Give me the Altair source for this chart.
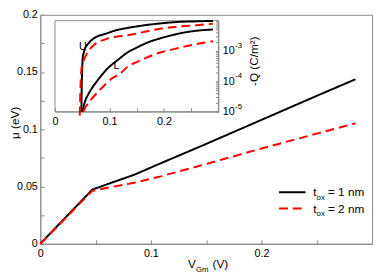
import altair as alt
import pandas as pd

# ---------------- data ----------------
series_keys = ["1", "2"]
series_labels = ["= 1 nm", "= 2 nm"]
series_colors = ["#000000", "#ff0000"]

# main panel: mu (eV) vs V_Gm (V)
v_1nm = [0, 0.047, 0.065, 0.085, 0.105, 0.15, 0.2, 0.25, 0.285]
mu_1nm = [0, 0.0473, 0.0535, 0.0603, 0.0687, 0.0872, 0.1082, 0.1292, 0.1437]
v_2nm = [0, 0.047, 0.065, 0.085, 0.109, 0.15, 0.2, 0.25, 0.285]
mu_2nm = [0, 0.0462, 0.0497, 0.0533, 0.0589, 0.0697, 0.0832, 0.0962, 0.1053]

# inset: -Q (C/m^2) vs V_Gm (V), curves U (upper) and L (lower)
vU_1nm = [0.0485, 0.049, 0.050, 0.051, 0.053, 0.055, 0.061, 0.07, 0.08, 0.091, 0.11, 0.133, 0.151, 0.193, 0.223, 0.26, 0.29]
qU_1nm = [1.0e-5, 5.0e-5, 2.5e-4, 6.3e-4, 8.9e-4, 1.17e-3, 1.74e-3, 2.5e-3, 3.16e-3, 3.6e-3, 4.7e-3, 5.75e-3, 6.5e-3, 8.1e-3, 9.0e-3, 9.5e-3, 9.8e-3]
vU_2nm = [0.0455, 0.046, 0.047, 0.048, 0.050, 0.053, 0.058, 0.065, 0.073, 0.09, 0.109, 0.133, 0.151, 0.193, 0.223, 0.26, 0.29]
qU_2nm = [7.4e-6, 2.0e-5, 7.9e-5, 2.0e-4, 3.55e-4, 5.0e-4, 7.9e-4, 1.2e-3, 1.66e-3, 2.34e-3, 2.9e-3, 3.3e-3, 3.8e-3, 5.4e-3, 6.3e-3, 7.1e-3, 7.9e-3]
vL_1nm = [0.0505, 0.053, 0.056, 0.061, 0.07, 0.079, 0.097, 0.115, 0.133, 0.151, 0.17, 0.193, 0.223, 0.253, 0.29]
qL_1nm = [1.0e-5, 1.6e-5, 2.4e-5, 3.7e-5, 6.8e-5, 1.12e-4, 2.7e-4, 5.0e-4, 8.9e-4, 1.32e-3, 1.9e-3, 2.6e-3, 3.6e-3, 4.5e-3, 5.1e-3]
vL_2nm = [0.052, 0.056, 0.062, 0.067, 0.08, 0.091, 0.105, 0.121, 0.135, 0.151, 0.17, 0.193, 0.22, 0.253, 0.29]
qL_2nm = [1.0e-5, 1.4e-5, 2.0e-5, 2.6e-5, 4.7e-5, 7.4e-5, 1.26e-4, 1.9e-4, 3.2e-4, 4.4e-4, 6.3e-4, 8.9e-4, 1.17e-3, 1.6e-3, 2.1e-3]

curve_names = ["U", "L"]
curve_label_v = [0.051, 0.113]
curve_label_q = [1.35e-3, 3.2e-4]

# ticks
x_ticks = [0, 0.05, 0.1, 0.15, 0.2, 0.25]
y_ticks = [0, 0.025, 0.05, 0.075, 0.1, 0.125, 0.15, 0.175, 0.2]
inset_x_ticks = [0, 0.05, 0.1, 0.15, 0.2, 0.25]
inset_y_ticks = [1e-5, 2e-5, 3e-5, 4e-5, 5e-5, 6e-5, 7e-5, 8e-5, 9e-5,
                 1e-4, 2e-4, 3e-4, 4e-4, 5e-4, 6e-4, 7e-4, 8e-4, 9e-4,
                 1e-3, 2e-3, 3e-3, 4e-3, 5e-3, 6e-3, 7e-3, 8e-3, 9e-3, 1e-2]
inset_decades = [1e-5, 1e-4, 1e-3]
inset_exponents = ["-5", "-4", "-3"]
inset_frame_v = [0, 0.3]
inset_frame_q = [1e-5, 1e-2]

# ---------------- tables ----------------
main_df = pd.concat([
    pd.DataFrame({"v": v_1nm, "mu": mu_1nm, "s": series_keys[0]}),
    pd.DataFrame({"v": v_2nm, "mu": mu_2nm, "s": series_keys[1]}),
], ignore_index=True)

inset_df = pd.concat([
    pd.DataFrame({"v": vU_1nm, "q": qU_1nm, "s": series_keys[0], "c": "U1"}),
    pd.DataFrame({"v": vU_2nm, "q": qU_2nm, "s": series_keys[1], "c": "U2"}),
    pd.DataFrame({"v": vL_1nm, "q": qL_1nm, "s": series_keys[0], "c": "L1"}),
    pd.DataFrame({"v": vL_2nm, "q": qL_2nm, "s": series_keys[1], "c": "L2"}),
], ignore_index=True)

label_df = pd.DataFrame({"v": curve_label_v, "q": curve_label_q, "t": curve_names})
exp_df = pd.DataFrame({"q": inset_decades, "t": inset_exponents})
frame_df = pd.DataFrame({"v": [inset_frame_v[0]], "v2": [inset_frame_v[1]],
                         "q": [inset_frame_q[0]], "q2": [inset_frame_q[1]]})
one = pd.DataFrame({"k": [0]})

W, H = 339, 234
GRAY = "#8a8a8a"
FONT = "Liberation Sans"

color_scale = alt.Scale(domain=series_keys, range=series_colors)
dash_scale = alt.Scale(domain=series_keys, range=[[1, 0], [9, 5]])


def xs_main():
    return alt.Scale(domain=[0, 0.3], nice=False, zero=False)


def ys_main():
    return alt.Scale(domain=[0, 0.2], nice=False, zero=False)


def xs_in():
    return alt.Scale(domain=[0, 0.3], range=[15, 182], nice=False, zero=False)


def ys_in():
    return alt.Scale(type="log", domain=[1e-5, 1e-2], range=[99, 6], nice=False)


# ---------------- main panel ----------------
main_lines = alt.Chart(main_df).mark_line(strokeWidth=2).encode(
    x=alt.X("v:Q", scale=xs_main(), axis=alt.Axis(
        values=x_ticks, orient="bottom", title=None,
        labelExpr="round(datum.value*100) % 10 == 0 ? (datum.value == 0 ? '0' : format(datum.value, '.1f')) : ''",
        tickSize={"expr": "-4"}, labelPadding=8, labelFlush=False, labelOverlap=False)),
    y=alt.Y("mu:Q", scale=ys_main(), axis=alt.Axis(
        values=y_ticks, orient="left", title="μ (eV)",
        labelExpr="round(datum.value*1000) % 50 == 0 ? format(datum.value, '.2~f') : ''",
        tickSize={"expr": "-4"}, labelPadding=7, titleAngle=270, titleBaseline="middle",
        titleX=-26, titleY=110, labelFlush=False, labelOverlap=False)),
    color=alt.Color("s:N", scale=color_scale, legend=None),
    strokeDash=alt.StrokeDash("s:N", scale=dash_scale, legend=None),
)

layers = [main_lines]


def txt(t, size, x, y):
    return alt.Chart(one).mark_text(text=t, fontSize=size, font=FONT, align="left",
                                    baseline="alphabetic", color="#000").encode(
        x=alt.value(x), y=alt.value(y))


# x-axis title with subscript
layers.append(txt("V", 12, 151, 259))
layers.append(txt("Gm", 8, 159, 263))
layers.append(txt("(V)", 12, 176, 259))

# legend
for i, (lab, col) in enumerate(zip(series_labels, series_colors)):
    dy = i * 16.7
    dash = [1, 0] if i == 0 else [9, 5]
    layers.append(alt.Chart(one).mark_rule(color=col, strokeWidth=2, strokeDash=dash).encode(
        x=alt.value(244), x2=alt.value(271), y=alt.value(181.3 + dy)))
    layers.append(txt("t", 12, 279, 185.5 + dy))
    layers.append(txt("ox", 8, 282.3, 189 + dy))
    layers.append(txt(lab, 12, 294, 185.5 + dy))

# ---------------- inset ----------------
frame = alt.Chart(frame_df).mark_rect(fill=None, stroke=GRAY, strokeWidth=1).encode(
    x=alt.X("v:Q", scale=xs_in(), axis=None),
    x2="v2:Q",
    y=alt.Y("q:Q", scale=ys_in(), axis=None),
    y2="q2:Q",
)

inset_lines = alt.Chart(inset_df).mark_line(strokeWidth=2, interpolate="monotone").encode(
    x=alt.X("v:Q", scale=xs_in(), axis=alt.Axis(
        values=inset_x_ticks, orient="bottom", offset=-135, title=None,
        labelExpr="round(datum.value*100) % 10 == 0 ? (datum.value == 0 ? '0' : format(datum.value, '.1f')) : ''",
        tickSize={"expr": "-4"}, labelPadding=8, labelFlush=False, labelOverlap=False)),
    y=alt.Y("q:Q", scale=ys_in(), axis=alt.Axis(
        values=inset_y_ticks, orient="right", offset=-157, title="-Q (C/m²)",
        labelExpr="(abs(log(datum.value)/LN10 - round(log(datum.value)/LN10)) < 0.01 && datum.value < 0.005) ? '10' : ''",
        tickSize={"expr": "-3"}, labelPadding=7, titleAngle=270, titleBaseline="middle",
        titleX=36, titleY=47, labelFlush=False, labelOverlap=False)),
    color=alt.Color("s:N", scale=color_scale, legend=None),
    strokeDash=alt.StrokeDash("s:N", scale=dash_scale, legend=None),
    detail="c:N",
)

inset_labels = alt.Chart(label_df).mark_text(fontSize=11, font=FONT, color="#000").encode(
    x=alt.X("v:Q", scale=xs_in(), axis=None),
    y=alt.Y("q:Q", scale=ys_in(), axis=None),
    text="t:N",
)

inset_exps = alt.Chart(exp_df).mark_text(fontSize=8, font=FONT, color="#000", align="left",
                                         baseline="middle", dy=-5).encode(
    x=alt.value(199),
    y=alt.Y("q:Q", scale=ys_in(), axis=None),
    text="t:N",
)

layers += [frame, inset_lines, inset_labels, inset_exps]

chart = alt.layer(*layers).resolve_scale(
    x="independent", y="independent", color="shared", strokeDash="shared"
).resolve_axis(x="independent", y="independent").properties(
    width=W, height=H,
    autosize=alt.AutoSizeParams(type="none"),
    padding={"left": 33, "top": 4, "right": 2, "bottom": 30},
).configure_view(stroke=GRAY, strokeWidth=1).configure_axis(
    grid=False, domainColor=GRAY, tickColor=GRAY, labelFont=FONT, labelFontSize=11,
    labelColor="#000", titleFont=FONT, titleFontSize=12, titleFontWeight="normal", titleColor="#000",
)

chart.save("out.html", embed_options={"renderer": "svg", "actions": False})
